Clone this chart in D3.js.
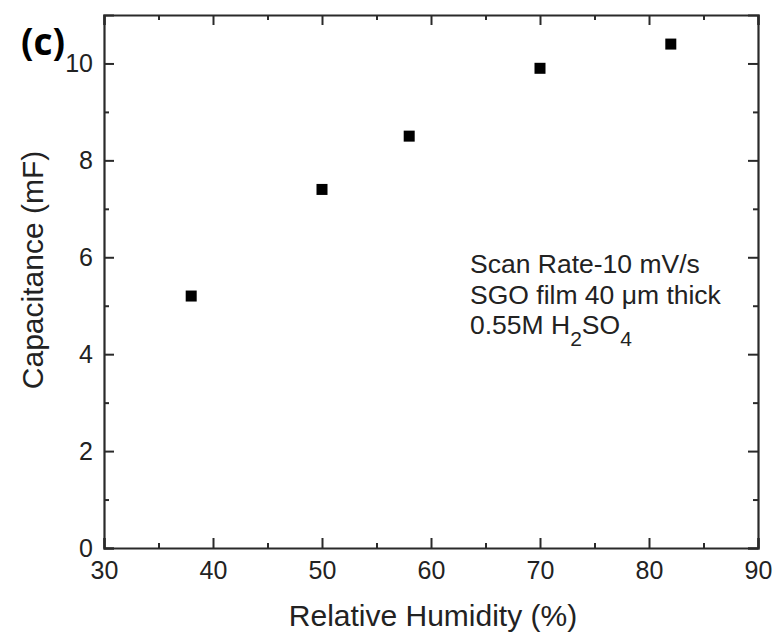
<!DOCTYPE html>
<html>
<head>
<meta charset="utf-8">
<script src="https://cdnjs.cloudflare.com/ajax/libs/d3/7.8.5/d3.min.js"></script>
<style>
  body { margin: 0; background: #fff; }
  text { font-family: "Liberation Sans", Arial, sans-serif; fill: #222; }
</style>
</head>
<body>
<div id="chart"></div>
<script>
// data
var humidity = [38, 50, 58, 70, 82];
var capacitance = [5.2, 7.4, 8.5, 9.9, 10.4];
var xTicks = [30, 40, 50, 60, 70, 80, 90];
var yTicks = [0, 2, 4, 6, 8, 10];
var xMinor = [35, 45, 55, 65, 75, 85];
var yMinor = [1, 3, 5, 7, 9];
var notes = ["Scan Rate-10 mV/s", "SGO film 40 \u03bcm thick", "0.55M H2SO4"];

var W = 774, H = 634;
var margin = {left: 104, right: 16, top: 15, bottom: 86};

var svg = d3.select("#chart").append("svg")
    .attr("width", W).attr("height", H);

var x = d3.scaleLinear().domain([30, 90]).range([margin.left, W - margin.right]);
var y = d3.scaleLinear().domain([0, 11]).range([H - margin.bottom, margin.top]);

var axisColor = "#2a2a2a";

// major + minor ticks, pointing inward on all four sides
function drawAxis(axis, transform, tickVals, minorVals, showLabels) {
    var g = svg.append("g").attr("transform", transform);
    g.call(axis.tickValues(tickVals).tickSize(-10).tickPadding(showLabels ? 11 : 0)
        .tickFormat(showLabels ? d3.format("d") : ""));
    g.select(".domain").attr("stroke", axisColor).attr("stroke-width", 2.2);
    g.selectAll(".tick line").attr("stroke", axisColor).attr("stroke-width", 2);
    g.selectAll(".tick text").style("font-size", "25px").attr("fill", "#222");
    var m = svg.append("g").attr("transform", transform);
    m.call(axis.tickValues(minorVals).tickSize(-5).tickFormat(""));
    m.select(".domain").remove();
    m.selectAll(".tick line").attr("stroke", axisColor).attr("stroke-width", 2);
    return g;
}

var xb = drawAxis(d3.axisBottom(x), "translate(0," + y(0) + ")", xTicks, xMinor, true);
xb.selectAll(".tick text").attr("dy", null).attr("y", 31);
drawAxis(d3.axisTop(x), "translate(0," + y(11) + ")", xTicks, xMinor, false);
drawAxis(d3.axisLeft(y), "translate(" + x(30) + ",0)", yTicks, yMinor, true);
drawAxis(d3.axisRight(y), "translate(" + x(90) + ",0)", yTicks, yMinor, false);

// points
svg.append("g").selectAll("rect").data(humidity).enter().append("rect")
    .attr("x", function(d) { return x(d) - 5.5; })
    .attr("y", function(d, i) { return y(capacitance[i]) - 5.5; })
    .attr("width", 11).attr("height", 11)
    .attr("fill", "#000");

// axis titles
svg.append("text")
    .attr("x", 433).attr("y", 626)
    .attr("text-anchor", "middle")
    .style("font-size", "30px")
    .text("Relative Humidity (%)");

svg.append("text")
    .attr("transform", "translate(43,270) rotate(-90)")
    .attr("text-anchor", "middle")
    .style("font-size", "30px")
    .text("Capacitance (mF)");

// panel letter
svg.append("text")
    .attr("x", 21).attr("y", 55)
    .style("font-size", "37px").style("font-weight", "bold")
    .style("font-family", "'Open Sans', sans-serif")
    .style("fill", "#000")
    .text("(c)");

// annotation
var note = svg.append("g").attr("transform", "translate(470,0)");
note.append("text").attr("y", 273).style("font-size", "26.5px").text(notes[0]);
note.append("text").attr("y", 304).style("font-size", "26.5px").text(notes[1]);
var l3 = note.append("text").attr("y", 334).style("font-size", "26.5px");
l3.append("tspan").text("0.55M H");
l3.append("tspan").attr("dy", 12).style("font-size", "21px").text("2");
l3.append("tspan").attr("dy", -12).text("SO");
l3.append("tspan").attr("dy", 12).style("font-size", "21px").text("4");
</script>
</body>
</html>
